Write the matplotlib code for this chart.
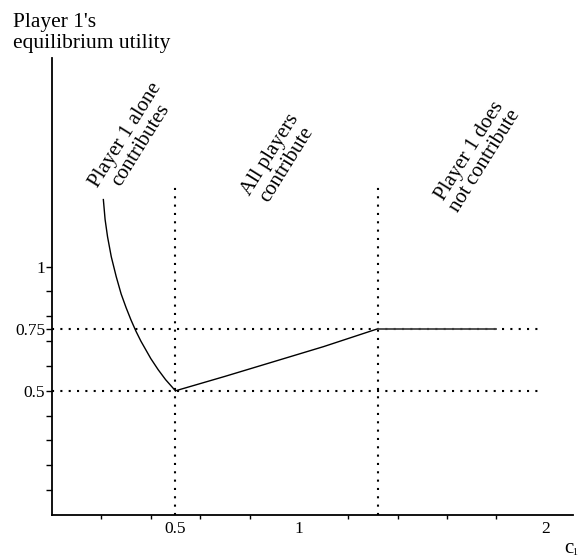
import numpy as np
import matplotlib
matplotlib.use("Agg")
import matplotlib.pyplot as plt

plt.rcParams['font.family'] = ['Liberation Serif', 'DejaVu Serif']

# Player 1 alone contributes
c_alone = [0.208, 0.215, 0.225, 0.24, 0.26, 0.28, 0.30, 0.32, 0.34, 0.36, 0.38, 0.40, 0.43, 0.46, 0.50]
u_alone = [1.27, 1.19, 1.12, 1.04, 0.96, 0.89, 0.835, 0.785, 0.74, 0.70, 0.665, 0.63, 0.585, 0.545, 0.50]

# All players contribute
c_all = [0.50, 0.70, 0.90, 1.10, 1.32]
u_all = [0.50, 0.558, 0.618, 0.678, 0.75]

# Player 1 does not contribute
c_none = [1.32, 1.80]
u_none = [0.75, 0.75]

# reference lines
h_levels = [0.5, 0.75]
v_levels = [0.5, 1.32]

x_minor = [0.2, 0.4, 0.6, 0.8, 1.0, 1.2, 1.4, 1.6, 1.8, 2.0]
x_labeled = [0.5, 1, 2]
x_labels = ["0.5", "1", "2"]
y_minor = [0.1, 0.2, 0.3, 0.4, 0.5, 0.6, 0.7, 0.8, 0.9, 1.0]
y_labeled = [0.5, 0.75, 1]
y_labels = ["0.5", "0.75", "1"]

regions = ["Player 1 alone\ncontributes", "All players\ncontribute", "Player 1 does\nnot contribute"]
region_x = [0.33, 0.918, 1.722]
region_y = [1.51, 1.43, 1.446]

W, H = 578, 558
fig = plt.figure(figsize=(W / 100, H / 100), dpi=100)
ax = fig.add_axes([52 / W, (H - 515) / H, (573 - 52) / W, (515 - 58) / H])

ax.set_xlim(0, 2.11)
ax.set_ylim(0, 1.84)

for s in ['top', 'right']:
    ax.spines[s].set_visible(False)
for s in ['left', 'bottom']:
    ax.spines[s].set_linewidth(1.3)

dots = (0, (1, 3))
for h in h_levels:
    ax.plot([0, 1.97], [h, h], color='black', lw=1.5, ls=dots)
for v in v_levels:
    ax.plot([v, v], [0, 1.32], color='black', lw=1.5, ls=dots)

ax.plot(c_alone, u_alone, color='black', lw=1.0)
ax.plot(c_all, u_all, color='black', lw=1.0)
ax.plot(c_none, u_none, color='#444444', lw=1.3)

ax.set_xticks(x_minor, minor=True)
ax.set_yticks(y_minor, minor=True)
ax.set_xticks(x_labeled)
ax.set_xticklabels(x_labels)
ax.set_yticks(y_labeled)
ax.set_yticklabels(y_labels)
ax.tick_params(which='both', direction='out', width=1, labelsize=12.5)
ax.tick_params(axis='y', which='both', length=4, pad=0.8)
ax.tick_params(axis='x', which='minor', length=3)
ax.tick_params(axis='x', which='major', length=0, pad=4)

for txt, xx, yy in zip(regions, region_x, region_y):
    ax.text(xx, yy, txt, rotation=58, ha='center', va='center',
            fontsize=15, linespacing=0.95, rotation_mode='anchor')

fig.text(13 / W, 1 - 27 / H, "Player 1's", ha='left', va='baseline', fontsize=15.5)
fig.text(13 / W, 1 - 48 / H, "equilibrium utility", ha='left', va='baseline', fontsize=15.5)
fig.text(564 / W, 1 - 553 / H, "c", ha='left', va='baseline', fontsize=15)
fig.text(572.5 / W, 1 - 555 / H, "1", ha='left', va='baseline', fontsize=7)

fig.savefig("out.png", dpi=100)
